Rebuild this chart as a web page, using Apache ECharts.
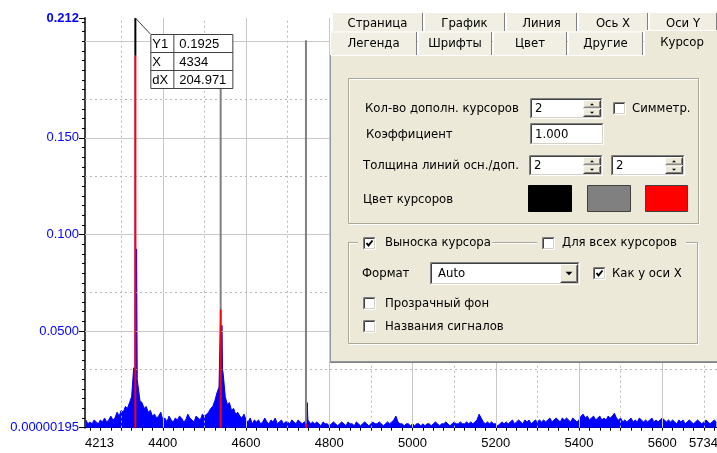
<!DOCTYPE html>
<html><head><meta charset="utf-8">
<style>html,body{margin:0;padding:0;background:#fff;}#c{width:717px;height:453px;}</style>
<script src="https://cdn.jsdelivr.net/npm/echarts@6.0.0/dist/echarts.min.js"></script>
</head><body><div id="c"></div>
<script>
// ---------------- data ----------------
const xMin = 4213, xMax = 5734;
const yMin = 0.00000195, yMax = 0.212;
const xTickLabels = [4213, 4400, 4600, 4800, 5000, 5200, 5400, 5600, 5734];
const xMajorGrid = [4400, 4600, 4800, 5000, 5200, 5400, 5600];
const xMinorGrid = [4300, 4500, 4700, 4900, 5100, 5300, 5500, 5700];
const yTickValues = [0.00000195, 0.05, 0.1, 0.15, 0.212];
const yTickLabels = ['0.00000195', '0.0500', '0.100', '0.150', '0.212'];
const yMajorGrid = [0.05, 0.1, 0.15, 0.2];
const yMinorGrid = [0.025, 0.075, 0.125, 0.175];

const specStart = 4215, specStep = 5;
const specVals = [
 0.004,0.002,0.003,0.002,0.004,0.003,0.002,0.004,0.003,0.005,0.003,0.004,0.006,0.004,0.005,0.008,0.006,0.009,0.008,0.011,
 0.010,0.013,0.016,0.031,0.090,0.024,0.014,0.013,0.010,0.011,0.008,0.009,0.006,0.007,0.005,0.006,0.008,0.004,0.005,0.003,
 0.006,0.004,0.003,0.005,0.004,0.006,0.005,0.003,0.004,0.007,0.005,0.004,0.003,0.006,0.005,0.004,0.007,0.006,0.007,0.008,
 0.010,0.011,0.014,0.018,0.021,0.055,0.028,0.016,0.012,0.013,0.009,0.010,0.007,0.008,0.006,0.005,0.007,0.004,0.003,0.005,
 0.002,0.004,0.003,0.004,0.002,0.003,0.005,0.003,0.002,0.004,0.003,0.005,0.002,0.003,0.004,0.002,0.003,0.003,0.002,0.004,
 0.003,0.002,0.004,0.003,0.002,0.003,0.005,0.004,0.002,0.003,0.002,0.003,0.002,0.001,0.003,0.002,0.002,0.001,0.002,0.003,
 0.002,0.001,0.002,0.003,0.002,0.001,0.003,0.002,0.002,0.001,0.003,0.002,0.001,0.002,0.003,0.002,0.001,0.002,0.003,0.002,
 0.002,0.003,0.002,0.001,0.002,0.003,0.002,0.003,0.004,0.006,0.003,0.002,0.002,0.001,0.002,0.002,0.001,0.002,0.001,0.002,
 0.002,0.001,0.002,0.001,0.002,0.002,0.001,0.002,0.003,0.002,0.001,0.002,0.002,0.003,0.002,0.001,0.002,0.003,0.002,0.002,
 0.003,0.002,0.002,0.003,0.002,0.003,0.002,0.003,0.004,0.007,0.005,0.003,0.002,0.003,0.002,0.003,0.002,0.002,0.001,0.002,
 0.003,0.002,0.003,0.002,0.003,0.004,0.002,0.003,0.004,0.003,0.002,0.004,0.003,0.004,0.002,0.003,0.004,0.003,0.004,0.003,
 0.004,0.003,0.004,0.005,0.003,0.004,0.005,0.004,0.003,0.005,0.004,0.005,0.004,0.003,0.005,0.004,0.003,0.004,0.006,0.007,
 0.005,0.006,0.004,0.005,0.006,0.004,0.005,0.006,0.004,0.005,0.004,0.006,0.005,0.006,0.0075,0.005,0.004,0.005,0.003,0.004,
 0.003,0.004,0.005,0.003,0.004,0.003,0.005,0.004,0.003,0.004,0.003,0.004,0.005,0.003,0.004,0.003,0.004,0.005,0.004,0.003,
 0.004,0.003,0.004,0.003,0.002,0.004,0.003,0.004,0.002,0.003,0.004,0.003,0.002,0.003,0.004,0.003,0.002,0.003,0.004,0.003,
 0.002,0.003,0.004,0.003
];
const peakX = [4330, 4333, 4334, 4335, 4337, 4338.5, 4340, 4535, 4538, 4539, 4540, 4542, 4543.5, 4545, 4744, 4746, 4747, 4748.5, 4750];
const peakY = [0.031, 0.028, 0.1925, 0.026, 0.0925, 0.025, 0.024, 0.021, 0.02, 0.0612, 0.02, 0.053, 0.03, 0.028, 0.0021, 0.003, 0.013, 0.004, 0.004];

const cursorX0 = 4334, cursorDX = 204.971;
const cursorY = [0.1925, 0.0612, 0.0021];
const cursorTop = [0.212, 0.2005, 0.2005];
const cursorColors = ['#000000', '#808080', '#808080'];
const calloutRows = [['Y1', '0.1925'], ['X', '4334'], ['dX', '204.971']];

// ---------------- build ----------------
const spec = [];
for (let i = 0; i < specVals.length; i++) {
  const x = specStart + i * specStep;
  if (peakX.some(p => Math.abs(p - x) < 2.6)) continue;
  spec.push([x, specVals[i]]);
}
peakX.forEach((x, i) => spec.push([x, peakY[i]]));
spec.sort((a, b) => a[0] - b[0]);

const yMinorTicks = [];
for (let v = 0.005; v < yMax; v += 0.005) yMinorTicks.push(+v.toFixed(3));
const xMinorTicks = [];
for (let v = 4225; v < xMax; v += 25) xMinorTicks.push(v);

const AX_FONT = '"Liberation Sans", Arial, sans-serif';
const chart = echarts.init(document.getElementById('c'), null, {renderer: 'canvas'});

const gridMarks = [];
xMajorGrid.forEach(v => gridMarks.push({xAxis: v, lineStyle: {color: '#c8c8c8', type: 'solid', width: 1}}));
xMinorGrid.forEach(v => gridMarks.push({xAxis: v, lineStyle: {color: '#b8b8b8', type: [2, 3], width: 1}}));
yMajorGrid.forEach(v => gridMarks.push({yAxis: v, lineStyle: {color: '#c8c8c8', type: 'solid', width: 1}}));
yMinorGrid.forEach(v => gridMarks.push({yAxis: v, lineStyle: {color: '#b8b8b8', type: [2, 3], width: 1}}));

const series = [
  {type: 'line', data: [], silent: true, z: 1,
   markLine: {silent: true, symbol: 'none', animation: false, label: {show: false}, emphasis: {disabled: true}, data: gridMarks}},
  {type: 'line', data: spec, showSymbol: false, symbol: 'none', z: 3,
   lineStyle: {color: '#0000ff', width: 1}, areaStyle: {color: '#0000ff', opacity: 1}, itemStyle: {color: '#0000ff'}}
];
cursorY.forEach((cy, k) => {
  const cx = cursorX0 + k * cursorDX;
  series.push({type: 'line', data: [[cx, cursorTop[k]], [cx, cy]], symbol: 'none', z: 5,
    lineStyle: {color: cursorColors[k], width: 2}});
  series.push({type: 'line', data: [[cx, cy], [cx, yMin]], symbol: 'none', z: 5,
    lineStyle: {color: '#ff0000', width: 2}});
});

function yLabelFmt(v) {
  let best = 0;
  yTickValues.forEach((t, i) => { if (Math.abs(t - v) < Math.abs(yTickValues[best] - v)) best = i; });
  return best === yTickValues.length - 1 ? '{b|' + yTickLabels[best] + '}' : yTickLabels[best];
}

chart.setOption({
  animation: false,
  backgroundColor: '#ffffff',
  grid: {left: 85, top: 18, width: 633, height: 409.7, containLabel: false, outerBoundsMode: 'none'},
  xAxis: [{
    type: 'value', min: xMin, max: xMax, position: 'bottom',
    axisLine: {show: true, onZero: false, lineStyle: {color: '#000', width: 1}},
    axisTick: {show: true, customValues: xMinorTicks, length: 3, lineStyle: {color: '#000'}},
    axisLabel: {show: true, customValues: xTickLabels, margin: 9, color: '#000', fontFamily: AX_FONT, fontSize: 13,
      alignMinLabel: 'left', alignMaxLabel: 'right', showMinLabel: true, showMaxLabel: true, hideOverlap: false,
      formatter: v => String(Math.round(v))},
    splitLine: {show: false}
  }],
  yAxis: [{
    type: 'value', min: yMin, max: yMax, position: 'left',
    axisLine: {show: true, onZero: false, lineStyle: {color: '#404040', width: 2}},
    axisTick: {show: true, customValues: yTickValues, length: 6, lineStyle: {color: '#000'}},
    axisLabel: {show: true, customValues: yTickValues, margin: 6, color: '#0000ff', fontFamily: AX_FONT, fontSize: 13,
      showMinLabel: true, showMaxLabel: true, hideOverlap: false, formatter: yLabelFmt,
      rich: {b: {fontWeight: 'bold', color: '#0000ff', fontFamily: AX_FONT, fontSize: 13}}},
    splitLine: {show: false}
  }, {
    type: 'value', min: yMin, max: yMax, position: 'left',
    axisLine: {show: false},
    axisTick: {show: true, customValues: yMinorTicks, length: 3, lineStyle: {color: '#000'}},
    axisLabel: {show: false},
    splitLine: {show: false}
  }],
  series: series
});

// ---------------- callout + dialog (graphic) ----------------
const UI_FONT = '"DejaVu Sans", Tahoma, sans-serif';
const UI_SIZE = '11.7px ';
const PANEL = '#ECE9D8';
const ZZ = 100;
function R(x, y, w, h, fill, stroke, lw) {
  return {type: 'rect', z: ZZ, shape: {x: x, y: y, width: w, height: h}, style: {fill: fill || null, stroke: stroke || null, lineWidth: lw || 1}};
}
function L(x1, y1, x2, y2, c, lw) {
  return {type: 'line', z: ZZ, shape: {x1: x1, y1: y1, x2: x2, y2: y2}, style: {stroke: c, lineWidth: lw || 1}};
}
function T(x, y, s, opt) {
  return {type: 'text', z: ZZ, x: x, y: y, style: Object.assign({text: s, font: UI_SIZE + UI_FONT, fill: '#000', verticalAlign: 'middle', align: 'left'}, opt || {})};
}
function sunken(x, y, w, h, fill) {
  return [R(x, y, w, h, fill || '#fff'),
    L(x + .5, y + .5, x + w - .5, y + .5, '#808080'), L(x + .5, y + .5, x + .5, y + h - .5, '#808080'),
    L(x + 1.5, y + 1.5, x + w - 1.5, y + 1.5, '#404040'), L(x + 1.5, y + 1.5, x + 1.5, y + h - 1.5, '#404040'),
    L(x + .5, y + h - .5, x + w - .5, y + h - .5, '#ffffff'), L(x + w - .5, y + .5, x + w - .5, y + h - .5, '#ffffff'),
    L(x + 1.5, y + h - 1.5, x + w - 1.5, y + h - 1.5, '#D4D0C8'), L(x + w - 1.5, y + 1.5, x + w - 1.5, y + h - 1.5, '#D4D0C8')];
}
function raised(x, y, w, h) {
  return [R(x, y, w, h, PANEL),
    L(x + .5, y + .5, x + w - .5, y + .5, '#ffffff'), L(x + .5, y + .5, x + .5, y + h - .5, '#ffffff'),
    L(x + .5, y + h - .5, x + w - .5, y + h - .5, '#404040'), L(x + w - .5, y + .5, x + w - .5, y + h - .5, '#404040'),
    L(x + 1.5, y + h - 1.5, x + w - 1.5, y + h - 1.5, '#808080'), L(x + w - 1.5, y + 1.5, x + w - 1.5, y + h - 1.5, '#808080')];
}
function tri(cx, cy, up, s) {
  const pts = up ? [[cx - s, cy + s / 2], [cx + s, cy + s / 2], [cx, cy - s / 2]] : [[cx - s, cy - s / 2], [cx + s, cy - s / 2], [cx, cy + s / 2]];
  return {type: 'polygon', z: ZZ, shape: {points: pts}, style: {fill: '#000'}};
}
function spin(x, y, w, h, txt) {
  const bx = x + w - 20, bh = (h - 4) / 2;
  return [].concat(sunken(x, y, w, h), [T(x + 5, y + h / 2 + .5, txt)],
    raised(bx, y + 2, 18, bh), raised(bx, y + 2 + bh, 18, bh),
    [tri(bx + 9, y + 2 + bh / 2, true, 2), tri(bx + 9, y + 2 + bh * 1.5, false, 2)]);
}
function checkbox(x, y, checked) {
  const els = sunken(x, y, 13, 13);
  if (checked) els.push({type: 'polyline', z: ZZ, shape: {points: [[x + 3.5, y + 6], [x + 5.5, y + 8.5], [x + 9.5, y + 3.5]]}, style: {stroke: '#000', lineWidth: 2, fill: null}});
  return els;
}

const g = [];
// callout
const anchor = chart.convertToPixel({xAxisIndex: 0, yAxisIndex: 0}, [cursorX0, yMax]);
const bx0 = anchor[0] + 15, by0 = anchor[1] + 16, bw = 82, rh = 18, cw = 23;
g.push(L(anchor[0], anchor[1], bx0, by0, '#404040', 1));
g.push(R(bx0 + .5, by0 + .5, bw, rh * 3, '#ffffff', '#404040', 1));
for (let i = 1; i < 3; i++) g.push(L(bx0 + .5, by0 + .5 + i * rh, bx0 + .5 + bw, by0 + .5 + i * rh, '#404040'));
g.push(L(bx0 + .5 + cw, by0 + .5, bx0 + .5 + cw, by0 + .5 + rh * 3, '#404040'));
calloutRows.forEach((r, i) => {
  g.push(T(bx0 + 2, by0 + rh * i + rh / 2 + 1, r[0], {font: '13px ' + AX_FONT}));
  g.push(T(bx0 + cw + 6, by0 + rh * i + rh / 2 + 1, r[1], {font: '13px ' + AX_FONT}));
});

// dialog: panel
g.push(R(330, 55, 388, 307, PANEL));
g.push(L(330.5, 55, 330.5, 362, '#919B9C'));
g.push(L(330, 361.5, 717, 361.5, '#919B9C'));
g.push(L(330, 362.5, 717, 362.5, '#808080'));
g.push(L(331, 55.5, 643, 55.5, '#ffffff'));
// tab rows
const row1 = [['Страница', 332, 423], ['График', 424, 505], ['Линия', 506, 577], ['Ось X', 578, 648], ['Оси Y', 649, 717]];
const row2 = [['Легенда', 330, 417], ['Шрифты', 418, 492], ['Цвет', 493, 567], ['Другие', 568, 643]];
row1.forEach(t => {
  g.push(R(t[1], 12, t[2] - t[1], 19.5, '#F1EFE4'));
  g.push(L(t[1] + 1, 12.5, t[2] - 1, 12.5, '#ffffff'));
  g.push(L(t[1] + .5, 13, t[1] + .5, 31, '#ffffff'));
  g.push(L(t[2] - .5, 13, t[2] - .5, 31, '#808080'));
  g.push(T((t[1] + t[2]) / 2, 23.5, t[0], {align: 'center'}));
});
row2.forEach(t => {
  g.push(R(t[1], 31.5, t[2] - t[1], 23.5, '#F1EFE4'));
  g.push(L(t[1] + 1, 32, t[2] - 1, 32, '#ffffff'));
  g.push(L(t[1] + .5, 32, t[1] + .5, 55, '#ffffff'));
  g.push(L(t[2] - .5, 32, t[2] - .5, 55, '#808080'));
  g.push(T((t[1] + t[2]) / 2, 43.5, t[0], {align: 'center'}));
});
// selected tab
g.push(R(644, 30, 74, 27, PANEL));
g.push(L(644.5, 30.5, 644.5, 56, '#ffffff'));
g.push(L(645, 30.5, 717, 30.5, '#ffffff'));
g.push(T(682, 42.5, 'Курсор', {align: 'center'}));

// group box 1
g.push(R(349.5, 79.5, 350, 145, null, '#ffffff', 1));
g.push(R(348.5, 78.5, 350, 145, null, '#A8A799', 1));
g.push(T(365, 108.5, 'Кол-во дополн. курсоров'));
spin(530, 98, 73, 21, '2').forEach(e => g.push(e));
checkbox(613, 102, false).forEach(e => g.push(e));
g.push(T(632, 108.5, 'Симметр.'));
g.push(T(366, 134.5, 'Коэффициент'));
sunken(530, 123, 74, 22).forEach(e => g.push(e));
g.push(T(535, 134.5, '1.000'));
g.push(T(363, 165.5, 'Толщина линий осн./доп.'));
spin(529, 155, 74, 21, '2').forEach(e => g.push(e));
spin(611, 155, 74, 21, '2').forEach(e => g.push(e));
g.push(T(363, 200, 'Цвет курсоров'));
g.push(R(528.5, 185.5, 43, 26, '#000000', '#000000', 1));
g.push(R(587.5, 185.5, 43, 26, '#808080', '#404040', 1));
g.push(R(645.5, 185.5, 42, 26, '#ff0000', '#404040', 1));

// group box 2
g.push(R(349.5, 243.5, 349, 101, null, '#ffffff', 1));
g.push(R(348.5, 242.5, 349, 101, null, '#A8A799', 1));
g.push(R(358, 236, 134, 14, PANEL));
g.push(R(537, 236, 149, 14, PANEL));
checkbox(363, 237, true).forEach(e => g.push(e));
g.push(T(385, 243, 'Выноска курсора'));
checkbox(542, 237, false).forEach(e => g.push(e));
g.push(T(562, 243, 'Для всех курсоров'));
g.push(T(362, 273.5, 'Формат'));
sunken(430, 262, 150, 23).forEach(e => g.push(e));
g.push(T(438, 273.5, 'Auto'));
raised(560, 264, 18, 19).forEach(e => g.push(e));
g.push(tri(569, 273.5, false, 3.5));
checkbox(593, 267, true).forEach(e => g.push(e));
g.push(T(612, 273.5, 'Как у оси X'));
checkbox(363, 297, false).forEach(e => g.push(e));
g.push(T(385, 304, 'Прозрачный фон'));
checkbox(363, 320, false).forEach(e => g.push(e));
g.push(T(385, 327, 'Названия сигналов'));

chart.setOption({graphic: {elements: [{type: 'group', z: ZZ, silent: true, children: g}]}});
</script>
</body></html>
